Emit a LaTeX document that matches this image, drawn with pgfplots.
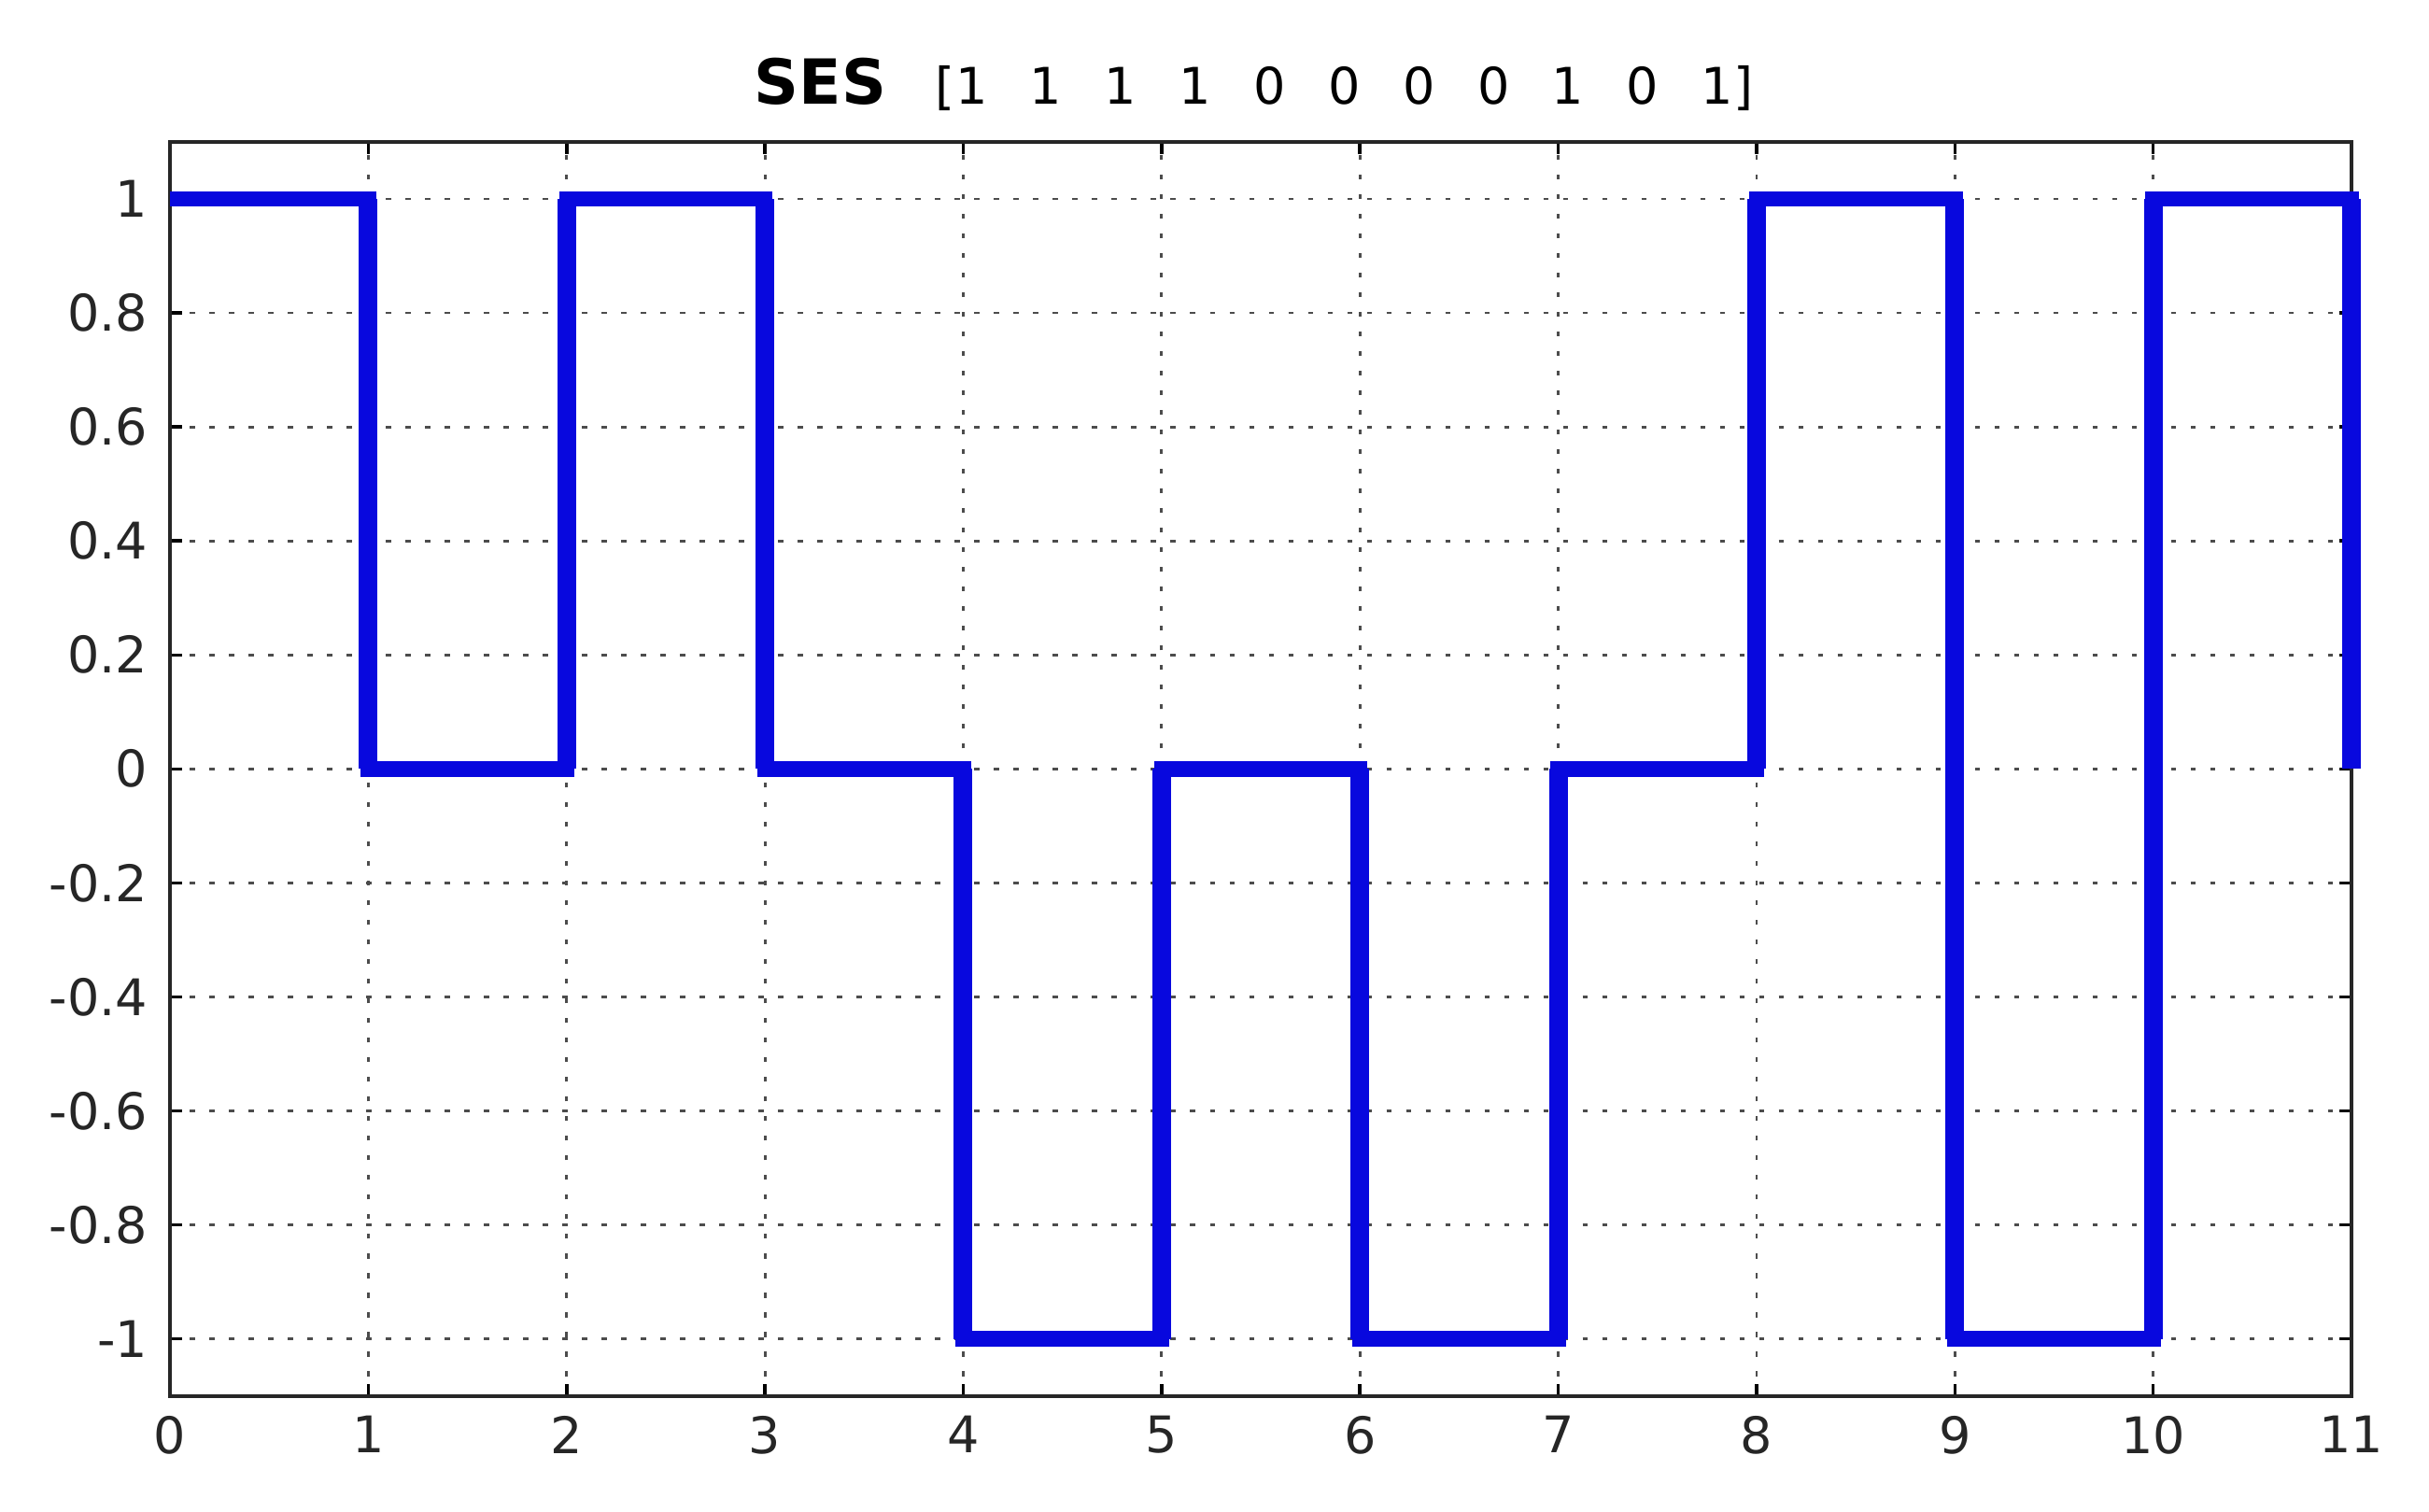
\documentclass[border=0pt]{standalone}
\usepackage{pgfplots}
\pgfplotsset{compat=1.18}
\usepackage{fontspec}
\setmainfont{DejaVu Sans}
\definecolor{sesblue}{RGB}{8,8,222}
\begin{document}
\begin{tikzpicture}
\useasboundingbox (-36.4pt,-24.8pt) rectangle (483.6pt,298.8pt);
\begin{axis}[
  at={(0,0)}, anchor=south west,
  scale only axis, width=467pt, height=268.4pt,
  xmin=0, xmax=11, ymin=-1.1, ymax=1.1,
  xtick={0,1,2,3,4,5,6,7,8,9,10,11},
  ytick={-1,-0.8,-0.6,-0.4,-0.2,0,0.2,0.4,0.6,0.8,1},
  yticklabels={-1,-0.8,-0.6,-0.4,-0.2,0,0.2,0.4,0.6,0.8,1},
  tick pos=both, tick align=inside,
  major tick length=2.6pt,
  every tick/.style={black, line width=0.7pt},
  axis line style={black!85, line width=0.8pt},
  grid=major,
  major grid style={black!70, line width=0.55pt, dash pattern=on 1.1pt off 3.1pt},
  /pgf/number format/assume math mode=true,
  ticklabel style={font=\fontsize{10.8}{13}\selectfont, text=black!85},
  yticklabel style={inner sep=0pt, xshift=-4.6pt},
  xticklabel style={inner sep=0pt, yshift=-4.2pt},
  title={\textbf{\fontsize{13.3}{16}\selectfont SES}\hspace{10.6pt}{\fontsize{10.8}{13}\selectfont [1\hspace{9.1pt}1\hspace{9.1pt}1\hspace{9.1pt}1\hspace{9.1pt}0\hspace{9.1pt}0\hspace{9.1pt}0\hspace{9.1pt}0\hspace{9.1pt}1\hspace{9.1pt}0\hspace{9.1pt}1]}},
  title style={at={(0.5,1)}, anchor=base, yshift=2.2pt, xshift=-1.5pt, inner sep=0pt},
  clip=false,
  unbounded coords=jump,
]
\addplot[sesblue, line width=3.3pt, line join=miter] table {
x y
0 1
1 1
1 0
2 0
2 1
3 1
3 0
4 0
4 -1
5 -1
5 0
6 0
6 -1
7 -1
7 0
8 0
8 1
9 1
9 -1
10 -1
10 1
11 1
11 0
};
\addplot[sesblue, line width=4pt] table {
x y
1 1
1 0
nan nan
2 0
2 1
nan nan
3 1
3 0
nan nan
4 0
4 -1
nan nan
5 -1
5 0
nan nan
6 0
6 -1
nan nan
7 -1
7 0
nan nan
8 0
8 1
nan nan
9 1
9 -1
nan nan
10 -1
10 1
nan nan
11 1
11 0
};
\end{axis}
\end{tikzpicture}
\end{document}
